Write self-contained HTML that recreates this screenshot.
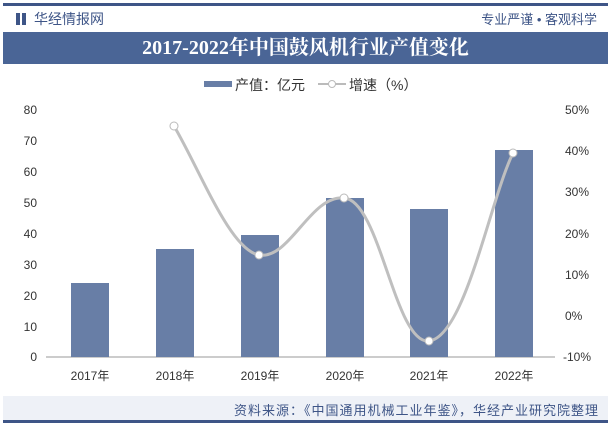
<!DOCTYPE html><html><head><meta charset="utf-8"><style>
body{margin:0;width:611px;height:425px;background:#fff;overflow:hidden;position:relative;font-family:"Liberation Sans","Noto Sans CJK SC",sans-serif}
.a{position:absolute}
</style></head><body>
<div class="a" style="left:3px;top:3px;width:605px;height:3px;background:#3e5587"></div>
<div class="a" style="left:16px;top:13px;width:4px;height:12px;background:#3e5587"></div>
<div class="a" style="left:22px;top:13px;width:4px;height:12px;background:#3e5587"></div>
<div class="a" style="left:34px;top:9px;font-size:14px;color:#3e5587">华经情报网</div>
<div class="a" style="right:14px;top:9px;font-size:13px;color:#3e5587">专业严谨 • 客观科学</div>
<div class="a" style="left:3px;top:32px;width:605px;height:32px;background:#4a6596;color:#fff;font-family:'Liberation Serif','Noto Serif CJK SC',serif;font-weight:bold;font-size:20px;text-align:center;line-height:32px">2017-2022年中国鼓风机行业产值变化</div>
<svg class="a" style="left:0;top:0" width="611" height="425">
<rect x="204" y="81" width="28" height="6" fill="#687ea6"/>
<text x="235" y="90" font-size="14" fill="#333">产值：亿元</text>
<line x1="318" y1="84" x2="346" y2="84" stroke="#bbb" stroke-width="2"/><circle cx="332" cy="84" r="3.5" fill="#fff" stroke="#bbb"/>
<text x="349" y="90" font-size="14" fill="#333">增速（%）</text>
<g font-size="12" fill="#333" text-anchor="end">
<text x="37" y="114">80</text><text x="37" y="145">70</text><text x="37" y="176">60</text><text x="37" y="207">50</text><text x="37" y="238">40</text><text x="37" y="269">30</text><text x="37" y="300">20</text><text x="37" y="331">10</text><text x="37" y="361">0</text></g>
<g font-size="12" fill="#333">
<text x="565" y="114">50%</text><text x="565" y="155">40%</text><text x="565" y="196">30%</text><text x="565" y="238">20%</text><text x="565" y="279">10%</text><text x="565" y="320">0%</text><text x="563" y="361">-10%</text></g>
<line x1="46" y1="357" x2="555" y2="357" stroke="#999"/>
<g fill="#687ea6">
<rect x="71" y="283" width="38" height="74"/>
<rect x="156" y="249" width="38" height="108"/>
<rect x="241" y="235" width="38" height="122"/>
<rect x="326" y="198" width="38" height="159"/>
<rect x="410" y="209" width="38" height="148"/>
<rect x="495" y="150" width="38" height="207"/></g>
<path d="M174,126 C200,170 230,250 259,255 C290,260 310,195 344,198 C380,200 395,345 429,341 C465,337 490,200 513,153" fill="none" stroke="#bfbfbf" stroke-width="3"/>
<g fill="#fff" stroke="#bbb"><circle cx="174" cy="126" r="4"/><circle cx="259" cy="255" r="4"/><circle cx="344" cy="198" r="4"/><circle cx="429" cy="341" r="4"/><circle cx="513" cy="153" r="4"/></g>
<g font-size="12" fill="#333" text-anchor="middle">
<text x="90" y="380">2017年</text><text x="175" y="380">2018年</text><text x="260" y="380">2019年</text><text x="345" y="380">2020年</text><text x="429" y="380">2021年</text><text x="514" y="380">2022年</text></g>
</svg>
<div class="a" style="left:3px;top:396px;width:605px;height:24px;background:#eef1f7"></div>
<div class="a" style="right:12px;top:400px;font-size:13px;color:#3e5587;letter-spacing:1px">资料来源：《中国通用机械工业年鉴》，华经产业研究院整理</div>
<div class="a" style="left:3px;top:420px;width:605px;height:3px;background:#3e5587"></div>
</body></html>
